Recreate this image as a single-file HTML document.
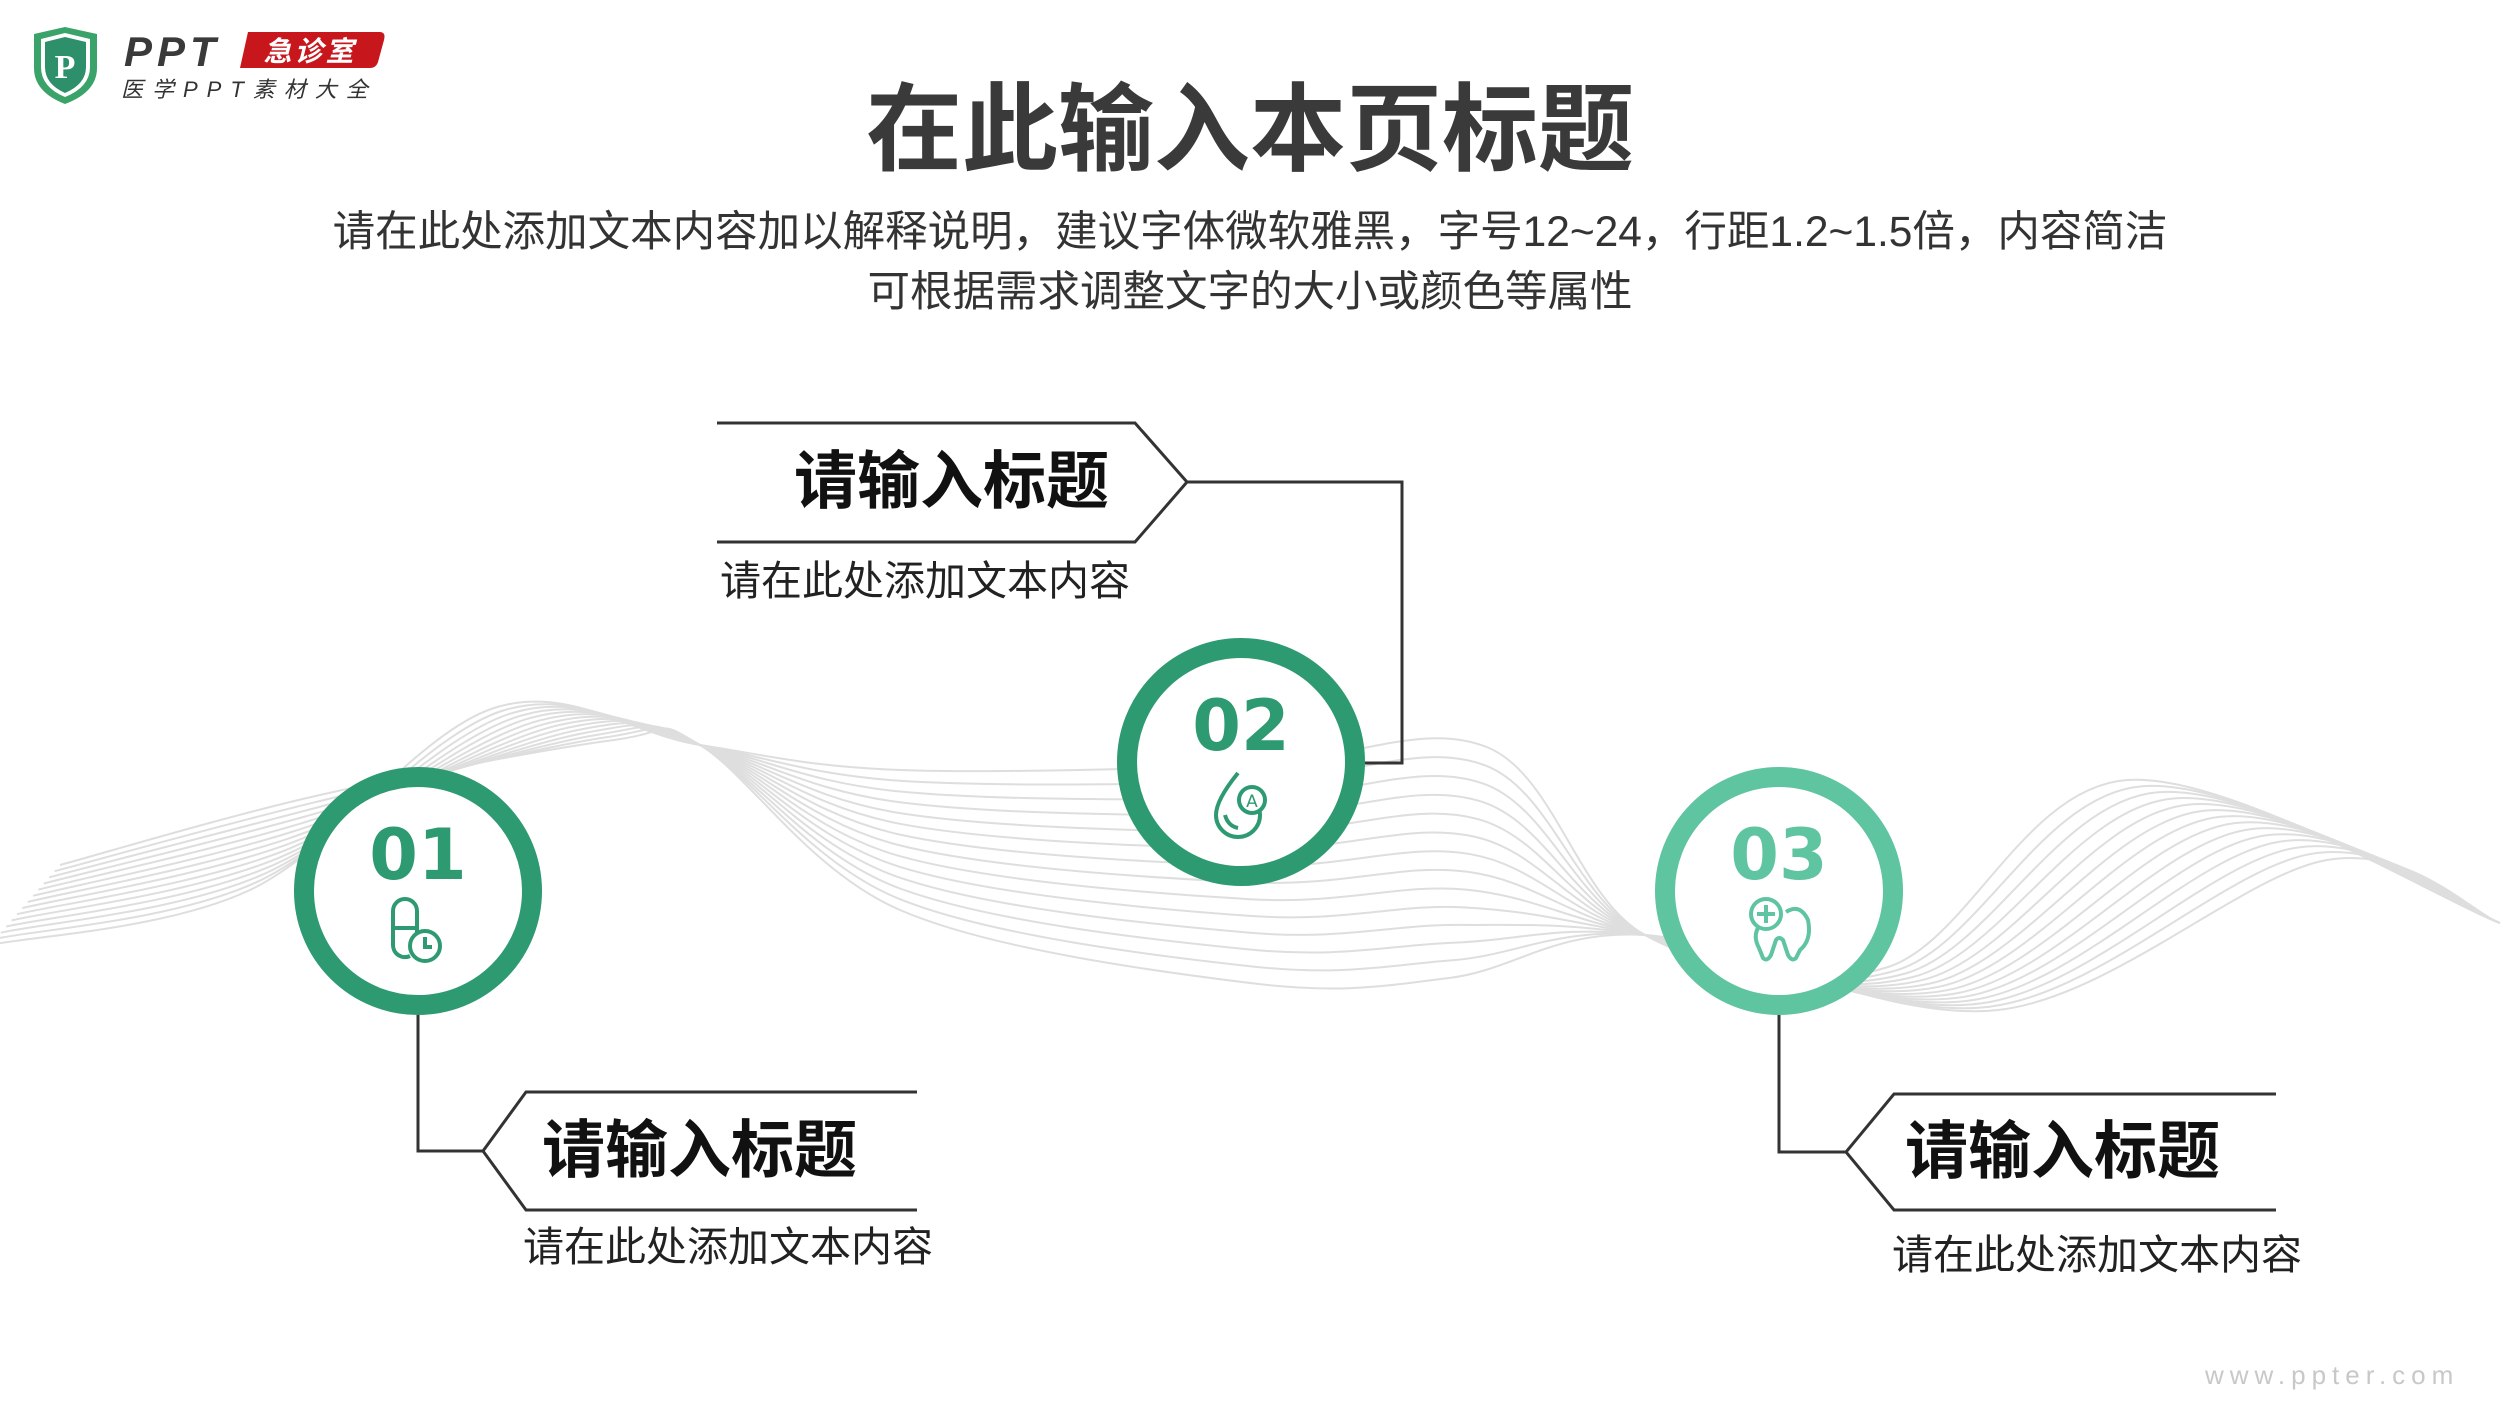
<!DOCTYPE html>
<html><head><meta charset="utf-8">
<style>
html,body{margin:0;padding:0;background:#fff}
body{width:2500px;height:1406px;position:relative;overflow:hidden;font-family:"Liberation Sans","Noto Sans CJK SC",sans-serif}
.t{position:absolute;white-space:nowrap}
</style></head><body>
<svg id="s" width="2500" height="1406" style="position:absolute;left:0;top:0" xmlns="http://www.w3.org/2000/svg">
<g id="waves" fill="none" stroke="#dedede" stroke-width="2"></g>

<!-- logo -->
<path d="M34,34 L65,27 L97,34 L97,68 Q97,92 65,104 Q34,92 34,68 Z" fill="#3aa36a"/>
<path d="M41,39 L65,33 L90,39 L90,67 Q90,87 65,97 Q41,87 41,67 Z" fill="#fff"/>
<path d="M45,42 L65,37 L86,42 L86,67 Q86,84 65,93 Q45,84 45,67 Z" fill="#2e8f6b"/>
<text x="65" y="78" font-family="Liberation Serif" font-size="34" font-weight="bold" fill="#fff" text-anchor="middle">P</text>
<text x="124" y="66" font-family="Liberation Sans" font-size="42" font-weight="bold" font-style="italic" fill="#3a3a3a" letter-spacing="5">PPT</text>
<path d="M248,32 L380,32 Q386,32 384,40 L378,62 Q376,68 370,68 L240,68 Z" fill="#c8161d"/>
<text x="310" y="61" font-family="Liberation Sans,Noto Sans CJK SC,sans-serif" font-size="28" font-weight="bold" fill="#fff" text-anchor="middle" font-style="italic" letter-spacing="3">急诊室</text>
<text x="121" y="97" font-family="Liberation Sans,Noto Sans CJK SC,sans-serif" font-size="22" fill="#333" letter-spacing="9" font-style="italic">医学PPT素材大全</text>

<!-- connectors & label shapes -->
<g fill="none" stroke="#333" stroke-width="3">
<polyline points="717,423 1135,423 1187,482 1135,542 717,542"/>
<polyline points="1187,482 1402,482 1402,763 1365,763"/>
<polyline points="917,1092 526,1092 483,1151 526,1210 917,1210"/>
<polyline points="418,1015 418,1151 483,1151"/>
<polyline points="2276,1094 1894,1094 1846,1152 1894,1210 2276,1210"/>
<polyline points="1779,1015 1779,1152 1846,1152"/>
</g>

<!-- circles -->
<circle cx="418" cy="891" r="114" fill="#fff" stroke="#2e9a72" stroke-width="20"/>
<circle cx="1241" cy="762" r="114" fill="#fff" stroke="#2e9a72" stroke-width="20"/>
<circle cx="1779" cy="891" r="114" fill="#fff" stroke="#5fc4a0" stroke-width="20"/>
<text x="418" y="879" font-family="DejaVu Sans" font-weight="bold" font-size="70" fill="#2e9a72" text-anchor="middle">01</text>
<text x="1241" y="750" font-family="DejaVu Sans" font-weight="bold" font-size="70" fill="#2e9a72" text-anchor="middle">02</text>
<text x="1779" y="879" font-family="DejaVu Sans" font-weight="bold" font-size="70" fill="#5fc4a0" text-anchor="middle">03</text>

<!-- icon 01 pill+clock -->
<g fill="none" stroke="#2e9a72" stroke-width="4">
<path d="M393,933 L393,911 A12,12 0 0 1 417,911 L417,933"/>
<path d="M393,928 L417,928"/>
<path d="M393,928 L393,945 A12,12 0 0 0 410,956"/>
<circle cx="425" cy="946" r="15" fill="#fff"/>
<path d="M425,937 L425,947 L432,947"/>
</g>
<!-- icon 02 drop+A -->
<g fill="none" stroke="#2e9a72" stroke-width="4">
<path d="M1238,773 Q1216,800 1216,815 A22,22 0 0 0 1260,815 Q1260,805 1254,795"/>
<path d="M1225,815 Q1228,826 1238,828"/>
<circle cx="1252" cy="800" r="13" fill="#fff"/>
<text x="1252" y="807" font-family="DejaVu Sans" font-size="17" fill="#2e9a72" stroke="none" text-anchor="middle">A</text>
</g>
<!-- icon 03 tooth+plus -->
<g fill="none" stroke="#5fc4a0" stroke-width="4">
<path d="M1786,912 Q1800,903 1808,920 Q1812,940 1800,950 L1796,958 Q1792,962 1788,955 L1783,940 Q1779,936 1776,940 L1771,955 Q1767,962 1763,958 L1759,948 Q1752,935 1760,925"/>
<circle cx="1766" cy="914" r="15" fill="#fff"/>
<path d="M1757,914 L1775,914 M1766,905 L1766,923"/>
</g>
</svg>

<div class="t" style="left:0;width:2500px;text-align:center;top:76px;font-size:96px;font-weight:bold;color:#3a3a3a;line-height:110px">在此输入本页标题</div>
<div class="t" style="left:0;width:2500px;text-align:center;top:203px;font-size:42.5px;color:#333;line-height:60px">请在此处添加文本内容加以解释说明，建议字体微软雅黑，字号12~24，行距1.2~1.5倍，内容简洁<br>可根据需求调整文字的大小或颜色等属性</div>

<div class="t" style="left:794px;top:446px;font-size:63px;font-weight:bold;color:#111;line-height:72px">请输入标题</div>
<div class="t" style="left:720px;top:556px;font-size:41px;color:#222;line-height:50px">请在此处添加文本内容</div>
<div class="t" style="left:542px;top:1115px;font-size:63px;font-weight:bold;color:#111;line-height:72px">请输入标题</div>
<div class="t" style="left:523px;top:1222px;font-size:41px;color:#222;line-height:50px">请在此处添加文本内容</div>
<div class="t" style="left:1905px;top:1116px;font-size:63px;font-weight:bold;color:#111;line-height:72px">请输入标题</div>
<div class="t" style="left:1892px;top:1230px;font-size:41px;color:#222;line-height:50px">请在此处添加文本内容</div>
<div class="t" style="left:2205px;top:1360px;font-size:26px;color:#c8c8c8;letter-spacing:6px;line-height:30px">www.ppter.com</div>

<script>
(function(){
var g=document.getElementById('waves'),N=14,h='';
function cr(p){var d='M'+p[0][0].toFixed(1)+','+p[0][1].toFixed(1);for(var i=0;i<p.length-1;i++){var p0=p[i-1]||p[i],p1=p[i],p2=p[i+1],p3=p[i+2]||p[i+1];
var c1=[p1[0]+(p2[0]-p0[0])/6,p1[1]+(p2[1]-p0[1])/6],c2=[p2[0]-(p3[0]-p1[0])/6,p2[1]-(p3[1]-p1[1])/6];
d+=' C'+c1[0].toFixed(1)+','+c1[1].toFixed(1)+' '+c2[0].toFixed(1)+','+c2[1].toFixed(1)+' '+p2[0].toFixed(1)+','+p2[1].toFixed(1);}return d;}
for(var k=0;k<N;k++){var t=k/(N-1);
var p=[[-10+70*t,945-80*t],[250+70*t,890-95*t],[494+120*t,708+32*t],[700,745],
[900,770+140*t],[1250,765+218*t],[1489-40*t,748+230*t],[1645,935],
[1888+110*t,967+43*t],[2127+200*t,780+80*t],[2500,923]];
h+='<path d="'+cr(p)+'"/>';}
g.innerHTML=h;
})();
</script>
</body></html>
